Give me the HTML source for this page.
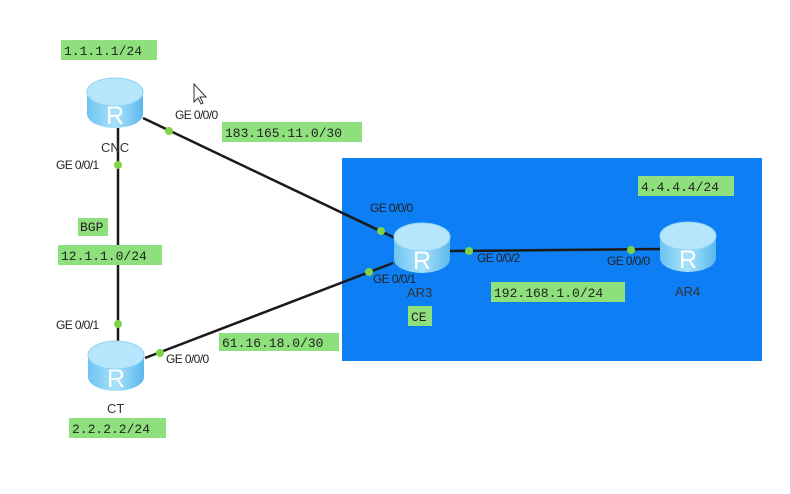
<!DOCTYPE html>
<html><head><meta charset="utf-8"><style>
body{margin:0;background:#fff;}
svg{display:block}
.m{font-family:"Liberation Mono",monospace;font-size:13px;fill:#222;}
.s{font-family:"Liberation Sans",sans-serif;font-size:12px;fill:#222;letter-spacing:-0.6px}
.n{font-family:"Liberation Sans",sans-serif;font-size:13px;fill:#333;}
</style></head><body>
<svg width="790" height="494" viewBox="0 0 790 494" xmlns="http://www.w3.org/2000/svg">
<defs>
<linearGradient id="g" x1="0" y1="0" x2="1" y2="0">
<stop offset="0" stop-color="#6fc4f0"/><stop offset="0.5" stop-color="#a8e2fb"/><stop offset="1" stop-color="#5ab8ec"/></linearGradient>
<g id="r">
<path d="M-28,-11 L-28,11 A28,14 0 0 0 28,11 L28,-11 Z" fill="url(#g)"/>
<ellipse cx="0" cy="-11" rx="28" ry="14" fill="#b5e6fb" stroke="#8fd3f5"/>
<text x="0" y="21" text-anchor="middle" font-family="Liberation Sans,sans-serif" font-size="25" fill="#fff">R</text>
</g>
</defs>
<rect x="342" y="158" width="420" height="203" fill="#0d7ef3"/>
<g stroke="#1a1a1a" stroke-width="2.5" fill="none">
<line x1="143" y1="118" x2="395" y2="238"/>
<line x1="393" y1="263" x2="145" y2="358"/>
<line x1="118" y1="128" x2="118" y2="342"/>
<line x1="450" y1="251" x2="660" y2="249"/>
</g>
<use href="#r" x="115" y="103"/>
<use href="#r" x="116" y="366"/>
<use href="#r" x="422" y="248"/>
<use href="#r" x="688" y="247"/>
<g fill="#7ed348">
<circle cx="169" cy="131" r="4"/><circle cx="118" cy="165" r="4"/><circle cx="118" cy="324" r="4"/>
<circle cx="160" cy="353" r="4"/><circle cx="381" cy="231" r="4"/><circle cx="369" cy="272" r="4"/>
<circle cx="469" cy="251" r="4"/><circle cx="631" cy="250" r="4"/>
</g>
<g fill="#8ee07c">
<rect x="61" y="40" width="96" height="20"/>
<rect x="222" y="122" width="140" height="20"/>
<rect x="78" y="218" width="30" height="18"/>
<rect x="58" y="245" width="104" height="20"/>
<rect x="219" y="333" width="120" height="18"/>
<rect x="69" y="418" width="97" height="20"/>
<rect x="638" y="176" width="96" height="20"/>
<rect x="491" y="282" width="134" height="20"/>
<rect x="408" y="306" width="24" height="20"/>
</g>
<text class="m" x="64" y="55">1.1.1.1/24</text>
<text class="m" x="225" y="137">183.165.11.0/30</text>
<text class="m" x="80" y="231">BGP</text>
<text class="m" x="61" y="260">12.1.1.0/24</text>
<text class="m" x="222" y="347">61.16.18.0/30</text>
<text class="m" x="72" y="433">2.2.2.2/24</text>
<text class="m" x="641" y="191">4.4.4.4/24</text>
<text class="m" x="494" y="297">192.168.1.0/24</text>
<text class="m" x="411" y="321">CE</text>
<text class="s" x="175" y="119">GE 0/0/0</text>
<text class="s" x="56" y="169">GE 0/0/1</text>
<text class="s" x="56" y="329">GE 0/0/1</text>
<text class="s" x="166" y="363">GE 0/0/0</text>
<text class="s" x="370" y="212">GE 0/0/0</text>
<text class="s" x="373" y="283">GE 0/0/1</text>
<text class="s" x="477" y="262">GE 0/0/2</text>
<text class="s" x="607" y="265">GE 0/0/0</text>
<text class="n" x="101" y="152">CNC</text>
<text class="n" x="107" y="413">CT</text>
<text class="n" x="407" y="297">AR3</text>
<text class="n" x="675" y="296">AR4</text>
<path d="M194,84 L194,102 L198,98 L201,104 L203,103 L200,97 L206,97 Z" fill="#fff" stroke="#333" stroke-width="1"/>
</svg>
</body></html>
